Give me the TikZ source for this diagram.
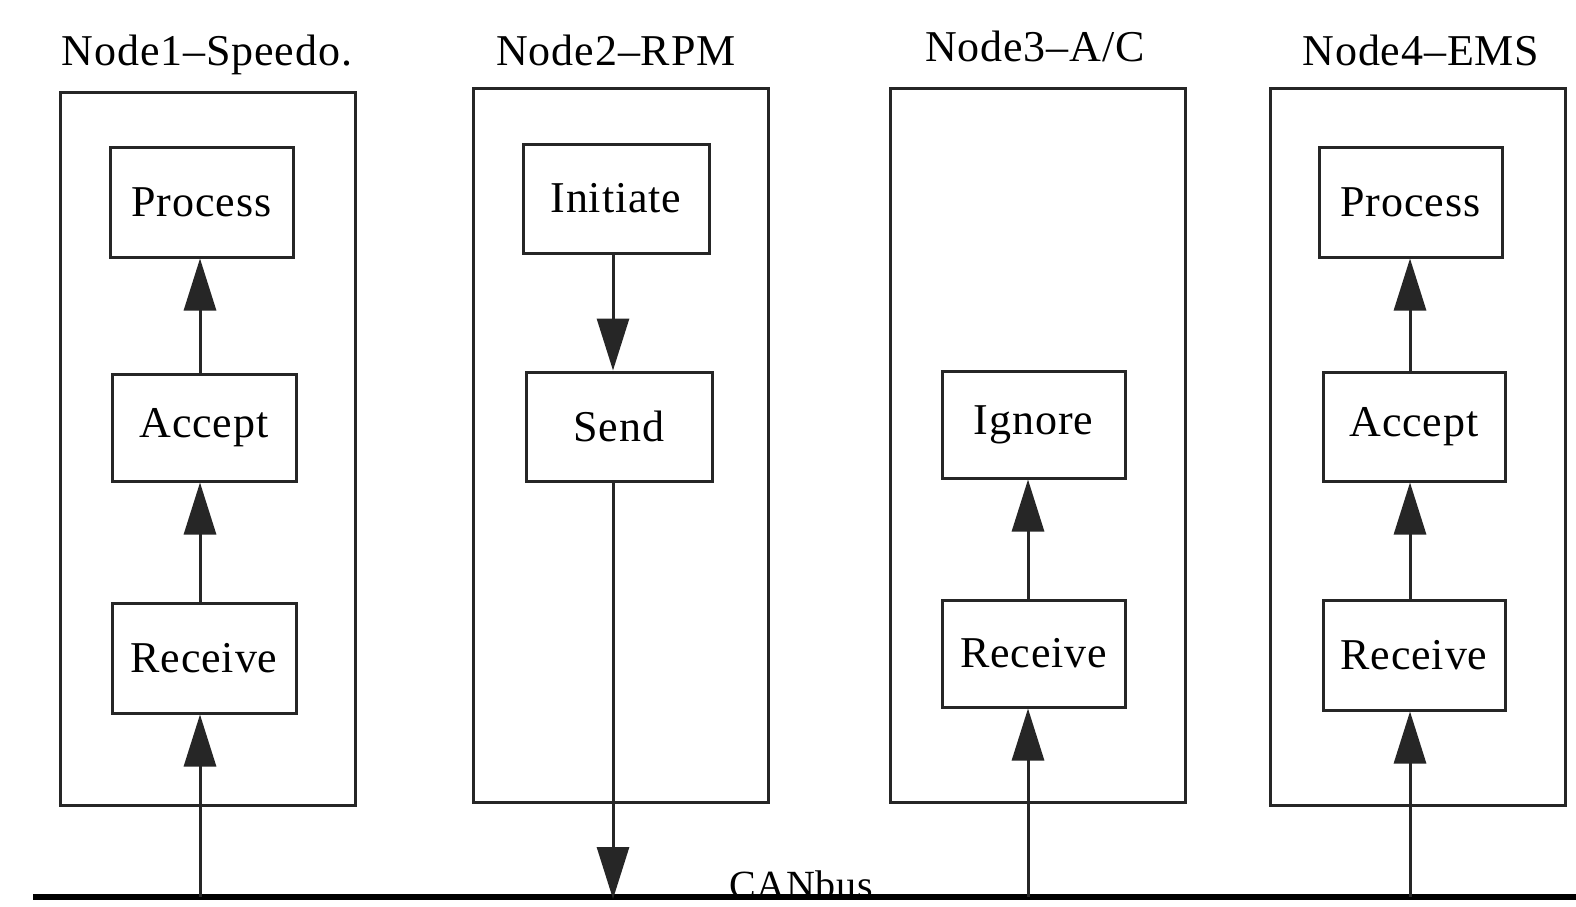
\documentclass[tikz,border=0pt]{standalone}
\usepackage{fontspec}
\setmainfont{Liberation Serif}
\newfontfamily\spacedfont[LetterSpace=2]{Liberation Serif}
\usetikzlibrary{arrows.meta}
\tikzset{
  outerbox/.style={draw=black!85, line width=3pt, inner sep=0pt},
  innerbox/.style={draw=black!85, line width=3pt, inner sep=0pt, font=\spacedfont\fontsize{44}{50}\selectfont},
  title/.style={anchor=base, inner sep=0pt, font=\spacedfont\fontsize{44}{50}\selectfont},
  arr/.style={line width=3pt, draw=black!85, -{Triangle[length=52pt,width=32pt]}},
  bus/.style={line width=5.5pt, draw=black}
}
\begin{document}
\begin{tikzpicture}[x=1pt,y=-1pt]
\useasboundingbox[fill=white] (0,0) rectangle (1576,907);
% outer boxes
\node[outerbox, minimum width=295pt, minimum height=713pt] (n1) at (207.5,448.5) {};
\node[outerbox, minimum width=295pt, minimum height=714pt] (n2) at (620.5,445) {};
\node[outerbox, minimum width=295pt, minimum height=714pt] (n3) at (1037.5,445) {};
\node[outerbox, minimum width=295pt, minimum height=717pt] (n4) at (1417.5,446.5) {};
% titles
\node[title] (t1) at (207,66) {Node1–Speedo.};
\node[title] (t2) at (616,66) {Node2–RPM};
\node[title] (t3) at (1035,62) {Node3–A/C};
\node[title] (t4) at (1421,66) {Node4–EMS};
% inner boxes
\node[innerbox, minimum width=183pt, minimum height=110pt] (p1) at (201.5,202) {Process};
\node[innerbox, minimum width=184pt, minimum height=107pt] (a1) at (204,427.5) {Accept};
\node[innerbox, minimum width=184pt, minimum height=110pt] (r1) at (204,658) {Receive};
\node[innerbox, minimum width=186pt, minimum height=109pt] (i2) at (616,198.5) {Initiate};
\node[innerbox, minimum width=186pt, minimum height=109pt] (s2) at (619,426.5) {Send};
\node[innerbox, minimum width=183pt, minimum height=107pt] (g3) at (1033.5,424.5) {Ignore};
\node[innerbox, minimum width=183pt, minimum height=107pt] (r3) at (1033.5,653.5) {Receive};
\node[innerbox, minimum width=183pt, minimum height=110pt] (p4) at (1410.5,202) {Process};
\node[innerbox, minimum width=182pt, minimum height=109pt] (a4) at (1414,426.5) {Accept};
\node[innerbox, minimum width=182pt, minimum height=110pt] (r4) at (1414,655) {Receive};
% column guide coordinates
\coordinate (c1) at (200,0);
\coordinate (c2) at (613,0);
\coordinate (c3) at (1028,0);
\coordinate (c4) at (1410,0);
% bus
\coordinate (busL) at (33,897);
\coordinate (busR) at (1576,897);
\node[anchor=base, inner sep=0pt, font=\spacedfont\fontsize{40}{46}\selectfont] (can) at (801,898) {CANbus};
\draw[bus] (busL) -- (busR);
% arrows
\draw[arr] (c1 |- busL) -- (r1.south -| c1);
\draw[arr] (r1.north -| c1) -- (a1.south -| c1);
\draw[arr] (a1.north -| c1) -- (p1.south -| c1);
\draw[arr] (i2.south -| c2) -- (s2.north -| c2);
\draw[arr] (s2.south -| c2) -- ([yshift=-2pt]c2 |- busL);
\draw[arr] (c3 |- busL) -- (r3.south -| c3);
\draw[arr] (r3.north -| c3) -- (g3.south -| c3);
\draw[arr] (c4 |- busL) -- (r4.south -| c4);
\draw[arr] (r4.north -| c4) -- (a4.south -| c4);
\draw[arr] (a4.north -| c4) -- (p4.south -| c4);
\end{tikzpicture}
\end{document}
